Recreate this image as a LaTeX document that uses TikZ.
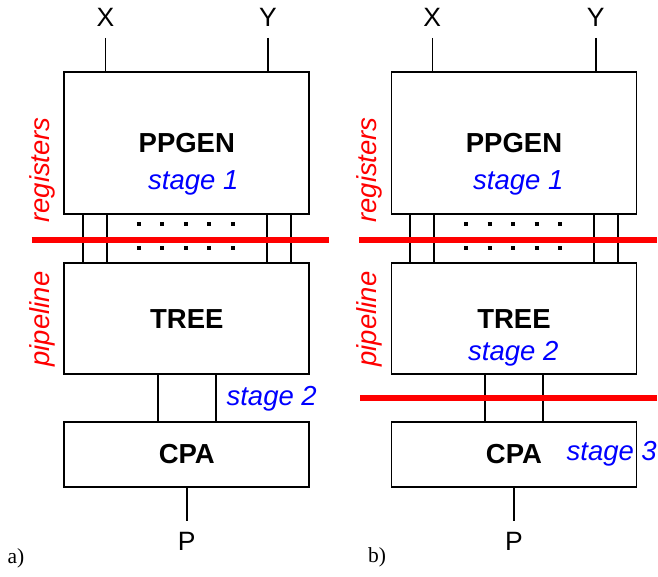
\documentclass[tikz,border=0pt]{standalone}
\usepackage{fontspec}
\setmainfont{Liberation Serif}
\setsansfont{Liberation Sans}
\usetikzlibrary{positioning}
\tikzstyle{block} = [rectangle, draw=black, line width=1.8pt, minimum width=245pt, inner sep=0,
                     font=\sffamily\bfseries\fontsize{27.5}{30}\selectfont]
\tikzstyle{port} = [inner sep=11pt, font=\sffamily\fontsize{26.5}{30}\selectfont]
\tikzstyle{wire} = [line width=1.6pt]
\tikzstyle{busdots} = [line width=4pt, dash pattern=on 4pt off 19.5pt]
\tikzstyle{register} = [red, line width=6pt]
\tikzstyle{stage} = [blue, font=\sffamily\itshape\fontsize{27.5}{30}\selectfont]
\tikzstyle{side} = [red, rotate=90, font=\sffamily\itshape\fontsize{27.5}{30}\selectfont]
\tikzstyle{caption} = [font=\fontsize{21.5}{24}\selectfont]

\begin{document}
\begin{tikzpicture}[x=1pt, y=-1pt]
	\useasboundingbox (0, 0) rectangle (658, 576);

	% a) registers after stage 1 only
	\node (PPGenA) [block, minimum height=141.7pt] at (186.8, 143.2) {PPGEN};
	\node (TreeA) [block, minimum height=111pt] at (186.8, 318.8) {TREE};
	\node (AdderA) [block, minimum height=65.6pt] at (186.8, 454.5) {CPA};

	\node (XA) [port] at (105.5, 17.5) {X};
	\node (YA) [port] at (268, 17.5) {Y};
	\draw [wire] (XA) -- (XA |- PPGenA.north);
	\draw [wire] (YA) -- (YA |- PPGenA.north);

	\draw [wire] ([xshift=-104pt]PPGenA.south) -- ([xshift=-104pt]TreeA.north);
	\draw [wire] ([xshift=-80pt]PPGenA.south) -- ([xshift=-80pt]TreeA.north);
	\draw [wire] ([xshift=80pt]PPGenA.south) -- ([xshift=80pt]TreeA.north);
	\draw [wire] ([xshift=104pt]PPGenA.south) -- ([xshift=104pt]TreeA.north);
	\draw [busdots] ([xshift=-50pt, yshift=-9.3pt]PPGenA.south) -- ([xshift=48pt, yshift=-9.3pt]PPGenA.south);
	\draw [busdots] ([xshift=-50pt, yshift=14pt]TreeA.north) -- ([xshift=48pt, yshift=14pt]TreeA.north);

	\draw [register] (31.7, 240) -- (329.3, 240);
	\node (RegA) [side] at (42.5, 170) {registers};
	\node (PipeA) [side] at (42, 319) {pipeline};
	\node (StageOneA) [stage] at (193.3, 183) {stage 1};

	\draw [wire] ([xshift=-29pt]TreeA.south) -- ([xshift=-29pt]AdderA.north);
	\draw [wire] ([xshift=29pt]TreeA.south) -- ([xshift=29pt]AdderA.north);
	\node (StageTwoA) [stage] at (271.7, 398.3) {stage 2};

	\node (OutA) [port] at (186.8, 541.7) {P};
	\draw [wire] (AdderA) -- (OutA);
	\node (CapA) [caption] at (16, 558) {a)};

	% b) registers after stage 1 and stage 2
	\node (PPGenB) [block, minimum height=141.7pt] at (514, 143.2) {PPGEN};
	\node (TreeB) [block, minimum height=111pt] at (514, 318.8) {TREE};
	\node (AdderB) [block, minimum height=65.6pt] at (514, 454.5) {CPA};

	\node (XB) [port] at (432.3, 17.5) {X};
	\node (YB) [port] at (595.7, 17.5) {Y};
	\draw [wire] (XB) -- (XB |- PPGenB.north);
	\draw [wire] (YB) -- (YB |- PPGenB.north);

	\draw [wire] ([xshift=-104pt]PPGenB.south) -- ([xshift=-104pt]TreeB.north);
	\draw [wire] ([xshift=-80pt]PPGenB.south) -- ([xshift=-80pt]TreeB.north);
	\draw [wire] ([xshift=80pt]PPGenB.south) -- ([xshift=80pt]TreeB.north);
	\draw [wire] ([xshift=104pt]PPGenB.south) -- ([xshift=104pt]TreeB.north);
	\draw [busdots] ([xshift=-50pt, yshift=-9.3pt]PPGenB.south) -- ([xshift=48pt, yshift=-9.3pt]PPGenB.south);
	\draw [busdots] ([xshift=-50pt, yshift=14pt]TreeB.north) -- ([xshift=48pt, yshift=14pt]TreeB.north);

	\draw [register] (359, 240) -- (656.7, 240);
	\node (RegB) [side] at (369.5, 170) {registers};
	\node (PipeB) [side] at (369, 319) {pipeline};
	\node (StageOneB) [stage] at (518.3, 183) {stage 1};

	\draw [wire] ([xshift=-29pt]TreeB.south) -- ([xshift=-29pt]AdderB.north);
	\draw [wire] ([xshift=29pt]TreeB.south) -- ([xshift=29pt]AdderB.north);
	\draw [register] (360, 397.7) -- (656.7, 397.7);
	\node (StageTwoB) [stage] at (513.3, 354) {stage 2};
	\node (StageThreeB) [stage] at (611.7, 453.3) {stage 3};

	\node (OutB) [port] at (514, 541.7) {P};
	\draw [wire] (AdderB) -- (OutB);
	\node (CapB) [caption] at (377, 557) {b)};
\end{tikzpicture}
\end{document}
